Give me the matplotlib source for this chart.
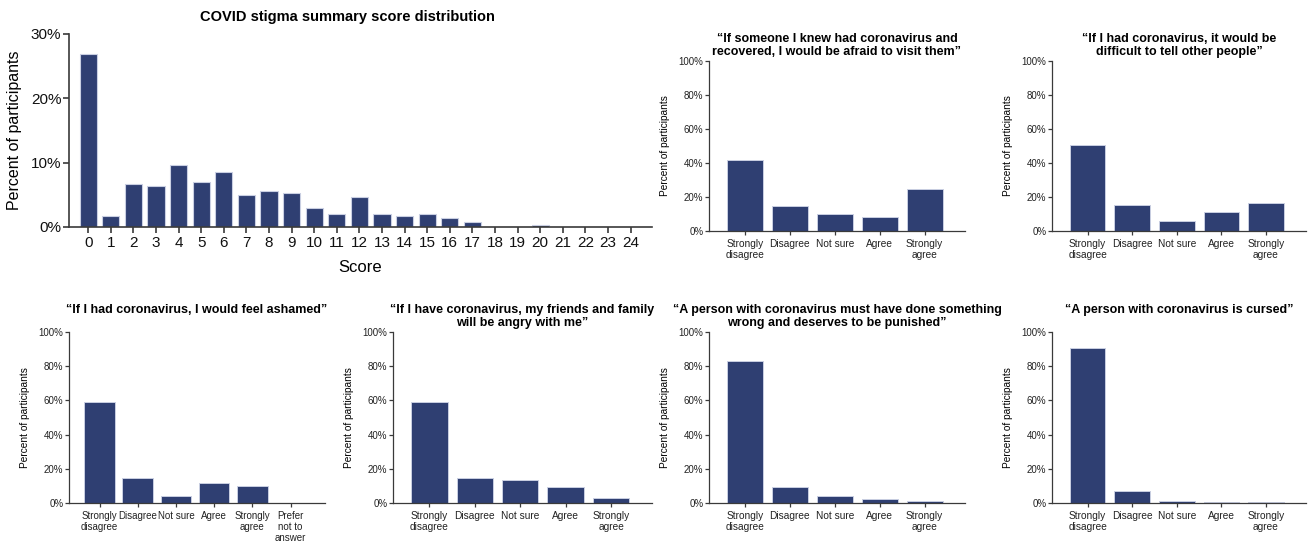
import numpy as np
import matplotlib
matplotlib.use("Agg")
import matplotlib.pyplot as plt

plt.rcParams['font.family'] = ['Liberation Sans', 'DejaVu Sans']

# Summary score distribution (percent of participants per score)
scores = list(range(25))
score_pct = [26.9, 1.7, 6.7, 6.3, 9.6, 7.0, 8.6, 5.0, 5.6, 5.3, 3.0, 2.0, 4.6,
             2.0, 1.7, 2.0, 1.35, 0.7, 0.0, 0.0, 0.3, 0.0, 0.0, 0.0, 0.0]

# Likert items
likert5 = ["Strongly\ndisagree", "Disagree", "Not sure", "Agree", "Strongly\nagree"]
likert6 = ["Strongly\ndisagree", "Disagree", "Not sure", "Agree", "Strongly\nagree",
           "Prefer\nnot to\nanswer"]

afraid_visit = [41.7, 14.8, 10.2, 8.1, 24.8]
difficult_tell = [50.3, 15.3, 5.7, 11.4, 16.5]
feel_ashamed = [59.2, 14.5, 4.1, 11.6, 9.8, 0.2]
angry_with_me = [59.2, 14.7, 13.5, 9.4, 2.9]
deserves_punish = [83.3, 9.2, 3.9, 2.4, 1.4]
is_cursed = [90.6, 7.3, 1.4, 0.8, 0.4]

titles = [
    "\u201cIf someone I knew had coronavirus and\nrecovered, I would be afraid to visit them\u201d",
    "\u201cIf I had coronavirus, it would be\ndifficult to tell other people\u201d",
    "\u201cIf I had coronavirus, I would feel ashamed\u201d",
    "\u201cIf I have coronavirus, my friends and family\nwill be angry with me\u201d",
    "\u201cA person with coronavirus must have done something\nwrong and deserves to be punished\u201d",
    "\u201cA person with coronavirus is cursed\u201d",
]

BAR = "#2f3f72"
EDGE = "#c9cfe2"
SPINE = "#3a3a3a"

W, H = 1309, 541
fig = plt.figure(figsize=(W / 100, H / 100), dpi=100)


def px_axes(x0, y_top, x1, y_bot):
    return fig.add_axes([x0 / W, (H - y_bot) / H, (x1 - x0) / W, (y_bot - y_top) / H])


def style(ax, lw=1.0):
    for s in ["top", "right"]:
        ax.spines[s].set_visible(False)
    for s in ["left", "bottom"]:
        ax.spines[s].set_color(SPINE)
        ax.spines[s].set_linewidth(lw)
    ax.tick_params(colors=SPINE, width=lw, direction="out")


# Main histogram
ax = px_axes(69, 34, 652, 227)
ax.bar(scores, score_pct, width=0.76, color=BAR, edgecolor=EDGE, linewidth=0.8)
ax.set_xlim(-0.85, 24.95)
ax.set_ylim(0, 30)
ax.set_yticks([0, 10, 20, 30])
ax.set_yticklabels(["0%", "10%", "20%", "30%"])
ax.set_xticks(scores)
style(ax, 1.2)
ax.tick_params(labelsize=11, length=4, labelcolor="#111111")
ax.tick_params(axis="x", pad=2.5)
ax.tick_params(axis="y", pad=1.5)
ax.set_ylabel("Percent of participants", fontsize=11.5)
ax.yaxis.set_label_coords(-54 / 583, 0.5)
ax.set_xlabel("Score", fontsize=12)
ax.xaxis.set_label_coords(0.5, -41 / 193)
ax.xaxis.label.set_va("center")
ax.yaxis.label.set_va("center")
fig.text(347 / W, 1 - 17 / H, "COVID stigma summary score distribution",
         ha="center", va="center", fontsize=10.5, fontweight="bold")

# Small Likert panels: (left, top, right, bottom) in pixels
panels = [
    ((709, 61, 965, 231), likert5, afraid_visit, titles[0]),
    ((1052, 61, 1306, 231), likert5, difficult_tell, titles[1]),
    ((69, 332, 325, 503), likert6, feel_ashamed, titles[2]),
    ((393, 332, 652, 503), likert5, angry_with_me, titles[3]),
    ((709, 332, 965, 503), likert5, deserves_punish, titles[4]),
    ((1052, 332, 1306, 503), likert5, is_cursed, titles[5]),
]

for (x0, yt, x1, yb), cats, vals, title in panels:
    ax = px_axes(x0, yt, x1, yb)
    pos = np.arange(len(cats))
    ax.bar(pos, vals, width=0.8, color=BAR, edgecolor=EDGE, linewidth=0.7)
    ax.set_xlim(-0.8, len(cats) - 0.1)
    ax.set_ylim(0, 100)
    ax.set_yticks([0, 20, 40, 60, 80, 100])
    ax.set_yticklabels(["0%", "20%", "40%", "60%", "80%", "100%"])
    ax.set_xticks(pos)
    ax.set_xticklabels(cats, linespacing=1.1)
    style(ax, 0.9)
    ax.tick_params(axis="y", labelsize=7, length=3, pad=1, labelcolor="#222222")
    ax.tick_params(axis="x", labelsize=7.3 if len(cats) == 5 else 7.0,
                   length=3, pad=3, labelcolor="#222222")
    ax.set_ylabel("Percent of participants", fontsize=7.3)
    ax.yaxis.set_label_coords(-44 / (x1 - x0), 0.5)
    ax.yaxis.label.set_va("center")
    ax.text(0.5, 1.0 + 28 / (yb - yt), title, transform=ax.transAxes,
            ha="center", va="top", fontsize=9, fontweight="bold", linespacing=1.15)

fig.savefig("out.png", dpi=100)
